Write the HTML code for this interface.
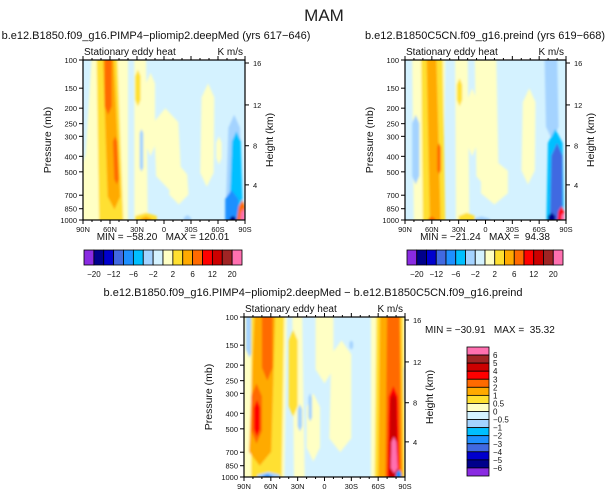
<!DOCTYPE html>
<html><head><meta charset="utf-8">
<style>
html,body{margin:0;padding:0;background:#fff;}
svg{display:block;font-family:"Liberation Sans",sans-serif;}
text{white-space:pre;}
</style></head>
<body>
<svg id="fig" width="615" height="496" viewBox="0 0 615 496" xmlns="http://www.w3.org/2000/svg">
<defs><filter id="soft" x="-5%" y="-5%" width="110%" height="110%"><feGaussianBlur stdDeviation="1.1"/></filter></defs>
<text x="324" y="21" font-size="17" text-anchor="middle" fill="#222">MAM</text>
</svg>
<script>
// ---- data ----
const colors = ["#8a2be2","#00008b","#0000cd","#4169e1","#1e90ff","#00bfff","#a4d3ff","#d4f2ff","#ffffc4","#ffe030","#ffaa00","#ff6a00","#ff0000","#cc0000","#a02424","#ff70b0"];
const cbLabelsTop = ["-20","-12","-6","-2","2","6","12","20"];
const cbLabelsDiff = ["6","5","4","3","2","1","0.5","0","-0.5","-1","-2","-3","-4","-5","-6"];
const latTicks = [90,60,30,0,-30,-60,-90];
const latLabels = ["90N","60N","30N","0","30S","60S","90S"];
const pTicks = [100,150,200,250,300,400,500,700,850,1000];
const hTicks = [4,8,12,16];
// features: [latTopA, latTopB, latBotA, latBotB, pTop, pBottom, colorIndex]
const feat1 = [
 [80,40,92,40,100,1000,8],[92,80,92,80,380,1000,8],[33,20,33,18,100,1000,8],[20,10,20,10,120,400,8],[12,-15,8,-20,200,650,8],[-8,-25,-5,-28,450,800,8],[-42,-56,-40,-55,140,620,8],[-58,-64,-58,-64,300,450,8],
 [75,52,72,45,100,1000,9],[32,26,32,26,115,195,9],[32,8,32,8,900,1000,9],
 [68,56,62,48,100,860,10],[26,14,26,14,950,1000,10],
 [66,58,66,58,100,220,11],[57,52,55,50,300,600,11],
 [27,23,27,23,270,500,6],[-22,-30,-22,-30,930,1000,6],[-72,-84,-68,-88,220,1000,6],[-76,-85,-72,-88,280,1000,5],[-68,-82,-68,-84,650,1000,4],[-73,-80,-73,-80,940,1000,1],
 [-84,-90,-80,-90,750,1000,11],[-86,-90,-84,-90,850,1000,15]
];
const feat2 = [
 [82,45,80,48,100,1000,8],[34,20,33,18,100,1000,8],[20,10,20,10,150,400,8],[12,-12,10,-15,100,650,8],[5,-25,5,-25,420,800,8],[-42,-56,-40,-55,150,600,8],
 [82,74,82,74,220,600,6],[-66,-80,-68,-82,100,320,6],[14,-5,14,-5,950,1000,6],
 [72,48,70,45,100,1000,9],[32,26,32,26,130,195,9],[30,12,30,12,900,1000,9],
 [66,55,62,50,100,1000,10],[54,50,54,50,330,520,11],[64,56,64,56,950,1000,11],
 [-70,-86,-68,-88,270,1000,5],[-74,-86,-72,-86,330,1000,3],[-70,-78,-70,-78,900,1000,1],[-82,-88,-80,-88,820,1000,12],[-85,-88,-85,-88,900,1000,15]
];
const feat3 = [
 [92,42,92,45,100,1000,8],[36,25,34,22,100,1000,8],[-8,-30,-5,-30,140,700,8],[-52,-92,-52,-92,100,1000,8],[10,-10,10,-10,100,260,8],[20,5,20,5,300,800,8],
 [88,80,88,80,100,180,6],[30,25,30,25,350,520,6],[18,14,18,14,300,450,6],[-28,-32,-28,-32,140,160,6],[-86,-90,-86,-90,200,350,6],
 [82,45,82,48,100,1000,9],[40,30,40,30,120,420,9],[-58,-88,-56,-90,100,1000,9],
 [78,55,85,60,100,850,10],[-62,-85,-60,-88,100,1000,10],
 [70,58,70,58,100,250,11],[82,70,82,70,260,620,11],[-70,-84,-68,-86,100,1000,11],
 [79,72,79,72,330,560,12],[-72,-82,-70,-84,270,1000,12],[-74,-80,-72,-82,300,1000,13],[-75,-80,-74,-82,560,950,15],
 [75,50,75,50,930,1000,6],[70,58,70,58,960,1000,4],[-80,-86,-80,-86,900,1000,4]
];

const svg = document.getElementById('fig');
const NS = "http://www.w3.org/2000/svg";
function mk(tag, attrs, parent){const e=document.createElementNS(NS,tag);for(const k in attrs)e.setAttribute(k,attrs[k]);(parent||svg).appendChild(e);return e;}
function txt(x,y,s,size,anchor,parent){const t=mk('text',{x:x,y:y,'font-size':size,'text-anchor':anchor||'start',fill:'#111'},parent);t.textContent=s;return t;}

function panel(name,x0,y0,w,h,feats,title,titleX){
  const g=mk('g',{});
  
  
  const X=lat=>x0+(90-lat)/180*w;
  const Y=p=>y0+Math.log10(p/100)*h;
  const clipId=name+'-clip';
  const cp=mk('clipPath',{id:clipId},g);mk('rect',{x:x0,y:y0,width:w,height:h},cp);
  const bg=mk('rect',{x:x0,y:y0,width:w,height:h,fill:colors[7]},g);
  
  
  const cg=mk('g',{'clip-path':'url(#'+clipId+')'},g);
  const fg=mk('g',{filter:'url(#soft)'},cg);
  feats.forEach(f=>{
    const ta=X(f[0]),tb=X(f[1]),ba=X(f[2]),bb=X(f[3]);
    let yt=Y(f[4]),yb=Y(f[5]);
    if(f[4]<=100) yt-=6;
    if(f[5]>=1000) yb+=6;
    const span=yb-yt, tap=Math.min(span*0.25,Math.abs(tb-ta)*1.2,14);
    const tt=f[4]>100?tap:0, tbot=f[5]<1000?tap:0;
    const lerp=(a,b,t)=>a+(b-a)*t;
    const fr=(yt+tt-yt)/span, fb=(yb-tbot-yt)/span;
    const pts=[
      [(ta+tb)/2,yt],
      [lerp(tb,bb,fr),yt+tt],
      [lerp(tb,bb,fb),yb-tbot],
      [(ba+bb)/2,yb],
      [lerp(ta,ba,fb),yb-tbot],
      [lerp(ta,ba,fr),yt+tt]
    ];
    const d='M'+pts.map(p=>p[0].toFixed(1)+','+p[1].toFixed(1)).join(' L ')+' Z';
    const r=mk('path',{d:d,fill:colors[f[6]],'stroke-linejoin':'round'},fg);
    
    
  });
  mk('rect',{x:x0,y:y0,width:w,height:h,fill:'none',stroke:'#000','stroke-width':1.2},g);
  latTicks.forEach((l,i)=>{
    const x=X(l);
    mk('line',{x1:x,y1:y0+h,x2:x,y2:y0+h+4,stroke:'#000'},g);
    mk('line',{x1:x,y1:y0,x2:x,y2:y0-4,stroke:'#000'},g);
    const t=txt(x,y0+h+12,latLabels[i],7.5,'middle',g);
    
    
  });
  for(let l=80;l>-90;l-=10){if(l%30){mk('line',{x1:X(l),y1:y0+h,x2:X(l),y2:y0+h+2,stroke:'#000'},g);mk('line',{x1:X(l),y1:y0,x2:X(l),y2:y0-2,stroke:'#000'},g);}}
  pTicks.forEach(p=>{
    const y=Y(p);
    mk('line',{x1:x0,y1:y,x2:x0-4,y2:y,stroke:'#000'},g);
    const t=txt(x0-6,y+3,String(p),7.5,'end',g);
    
    
  });
  hTicks.forEach(hk=>{
    const y=y0+h-(h-3)*Math.pow(hk/16,1.08);
    mk('line',{x1:x0+w,y1:y,x2:x0+w+4,y2:y,stroke:'#000'},g);
    const t=txt(x0+w+8,y+3,String(hk),7.5,'start',g);
    
    
  });
  const yl=txt(0,0,'Pressure (mb)',10.5,'middle',g);yl.setAttribute('transform','translate('+(x0-32)+','+(y0+h/2)+') rotate(-90)');
  
  
  const hl=txt(0,0,'Height (km)',10.5,'middle',g);hl.setAttribute('transform','translate('+(x0+w+28)+','+(y0+h/2)+') rotate(-90)');
  
  
  const st=txt(x0+1,y0-5,'Stationary eddy heat',10,'start',g);
  
  
  const un=txt(x0+w-2,y0-5,'K m/s',10,'end',g);
  
  
  const tt=txt(titleX,y0-21,title,11,'middle',g);
  
  
}
function hbar(name,x0,y0,w,h,mmText,mmY){
  const g=mk('g',{});
  
  
  const bw=w/colors.length;
  colors.forEach((c,i)=>{const r=mk('rect',{x:x0+i*bw,y:y0,width:bw,height:h,fill:c,stroke:'#000','stroke-width':0.8},g);
    
    });
  cbLabelsTop.forEach((s,i)=>{const t=txt(x0+bw*(1+2*i),y0+h+12,s.replace('-','\u2212'),8,'middle',g);
    
    });
  const m=txt(x0+w/2,mmY,mmText,10,'middle',g);
  
  
}
panel('panel-deepmed',83,60,162,160,feat1,'b.e12.B1850.f09_g16.PIMP4\u2212pliomip2.deepMed (yrs 617\u2212646)',156);
panel('panel-preind',405,60,161,160,feat2,'b.e12.B1850C5CN.f09_g16.preind (yrs 619\u2212668)',485);
panel('panel-difference',244,317,161,160,feat3,'b.e12.B1850.f09_g16.PIMP4\u2212pliomip2.deepMed \u2212 b.e12.B1850C5CN.f09_g16.preind',313);
hbar('colorbar-deepmed',84,250,158,15,'MIN = \u221258.20   MAX = 120.01',240);
hbar('colorbar-preind',407,250,156,15,'MIN = \u221221.24   MAX =  94.38',240);
(function(){
  const g=mk('g',{});
  
  
  const x0=467,y0=347,w=22,h=129,n=colors.length,bh=h/n;
  colors.slice().reverse().forEach((c,i)=>{const r=mk('rect',{x:x0,y:y0+i*bh,width:w,height:bh,fill:c,stroke:'#000','stroke-width':0.8},g);
    
    });
  cbLabelsDiff.forEach((s,i)=>{const t=txt(x0+w+4,y0+(i+1)*bh+3,s.replace('-','\u2212'),8,'start',g);
    
    });
  const m=txt(425,333,'MIN = \u221230.91   MAX =  35.32',10,'start',g);
  
  
})();
</script>
</body></html>
